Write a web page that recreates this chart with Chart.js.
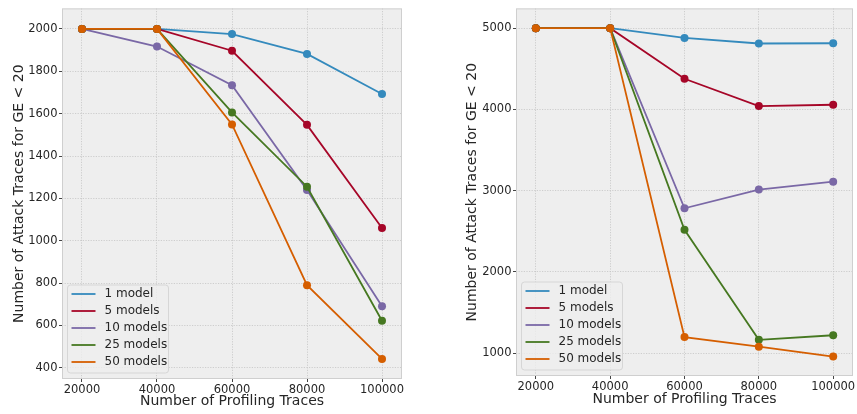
<!DOCTYPE html>
<html>
<head>
<meta charset="utf-8">
<script src="https://cdn.jsdelivr.net/npm/chart.js@4.4.1/dist/chart.umd.min.js"></script>
<style>
  html, body { margin: 0; padding: 0; background: #ffffff; }
  #wrap { position: relative; width: 857px; height: 414px; }
  .box { position: absolute; top: 0; height: 414px; }
</style>
</head>
<body>
<div id="wrap">
  <div class="box" style="left:0;width:420px"><canvas id="chart-left"></canvas></div>
  <div class="box" style="left:420px;width:437px"><canvas id="chart-right"></canvas></div>
</div>
<script>
// data

var profilingTraces = [20000, 40000, 60000, 80000, 100000];
var seriesLabels = ['1 model', '5 models', '10 models', '25 models', '50 models'];
var seriesColors = ['#348ABD', '#A60628', '#7A68A6', '#467821', '#D55E00'];

// left panel
var left1 = [2000, 2000, 1976, 1882, 1693];
var left5 = [2000, 2000, 1897, 1547, 1060];
var left10 = [2000, 1917, 1734, 1240, 691];
var left25 = [2000, 2000, 1606, 1255, 622];
var left50 = [2000, 2000, 1549, 790, 442];
var leftYTicks = [400, 600, 800, 1000, 1200, 1400, 1600, 1800, 2000];

// right panel
var right1 = [5000, 5000, 4879, 4811, 4814];
var right5 = [5000, 5000, 4377, 4040, 4057];
var right10 = [5000, 5000, 2782, 3012, 3110];
var right25 = [5000, 5000, 2518, 1162, 1219];
var right50 = [5000, 5000, 1196, 1078, 956];
var rightYTicks = [1000, 2000, 3000, 4000, 5000];

var xTicks = [20000, 40000, 60000, 80000, 100000];

var fontFamily = "'DejaVu Sans', sans-serif";

// background + full frame + legend inside the plot area
var framePlugin = {
    id: 'frame',
    beforeDraw: function (chart) {
        var a = chart.chartArea;
        var ctx = chart.ctx;
        ctx.save();
        ctx.fillStyle = '#eeeeee';
        ctx.fillRect(a.left, a.top, a.right - a.left, a.bottom - a.top);
        ctx.restore();
    },
    afterDraw: function (chart) {
        var a = chart.chartArea;
        var ctx = chart.ctx;
        ctx.save();
        ctx.strokeStyle = '#cfcfcf';
        ctx.lineWidth = 1;
        ctx.strokeRect(a.left + 0.5, a.top + 0.5, a.right - a.left - 1, a.bottom - a.top - 1);

        // legend box
        var bx = a.left + 5.5, bw = 101, bh = 88;
        var by = a.bottom - 6 - bh;
        ctx.fillStyle = 'rgba(238,238,238,0.8)';
        ctx.strokeStyle = '#d6d6d6';
        ctx.beginPath();
        ctx.roundRect(bx, by, bw, bh, 3);
        ctx.fill();
        ctx.stroke();

        ctx.font = '12px ' + fontFamily;
        ctx.textBaseline = 'middle';
        ctx.textAlign = 'left';
        chart.data.datasets.forEach(function (ds, i) {
            var yy = by + 9 + i * 17;
            ctx.strokeStyle = ds.borderColor;
            ctx.lineWidth = 1.8;
            ctx.beginPath();
            ctx.moveTo(bx + 4, yy);
            ctx.lineTo(bx + 28, yy);
            ctx.stroke();
            ctx.fillStyle = '#262626';
            ctx.fillText(ds.label, bx + 37, yy);
        });
        ctx.restore();
    }
};

function makeDatasets(seriesList) {
    var sets = [];
    for (var i = 0; i < seriesList.length; i++) {
        var pts = [];
        for (var j = 0; j < profilingTraces.length; j++) {
            pts.push({ x: profilingTraces[j], y: seriesList[i][j] });
        }
        sets.push({
            label: seriesLabels[i],
            data: pts,
            borderColor: seriesColors[i],
            backgroundColor: seriesColors[i],
            borderWidth: 1.8,
            pointRadius: 4,
            pointBorderWidth: 0,
            pointHoverRadius: 4,
            order: seriesList.length - i // later series drawn on top
        });
    }
    return sets;
}

function makeChart(canvasId, seriesList, yTicks, cfg) {
    var ctx = document.getElementById(canvasId).getContext('2d');
    var gridOpts = {
        color: '#c4c4c4',
        lineWidth: 0.8,
        tickLength: 3,
        tickColor: '#444444',
        tickBorderDash: [],
        tickWidth: 1
    };
    return new Chart(ctx, {
        type: 'line',
        data: { datasets: makeDatasets(seriesList) },
        plugins: [framePlugin],
        options: {
            responsive: true,
            maintainAspectRatio: false,
            animation: false,
            layout: { padding: { top: cfg.top, right: cfg.right, left: 0, bottom: 0 } },
            plugins: { legend: { display: false }, tooltip: { enabled: false } },
            scales: {
                x: {
                    type: 'linear',
                    min: 14667,
                    max: 105333,
                    afterBuildTicks: function (axis) {
                        axis.ticks = xTicks.map(function (v) { return { value: v }; });
                    },
                    afterFit: function (axis) { axis.height = cfg.xHeight; },
                    border: { display: false, dash: [1.2, 1.4] },
                    grid: gridOpts,
                    ticks: {
                        padding: 1,
                        color: '#262626',
                        font: { family: fontFamily, size: 11.5 },
                        maxRotation: 0,
                        callback: function (v) { return String(v); }
                    },
                    title: {
                        display: true,
                        text: 'Number of Profiling Traces',
                        color: '#262626',
                        font: { family: fontFamily, size: 14 },
                        padding: { top: 0, bottom: cfg.xTitlePad }
                    }
                },
                y: {
                    min: cfg.yMin,
                    max: cfg.yMax,
                    afterBuildTicks: function (axis) {
                        axis.ticks = yTicks.map(function (v) { return { value: v }; });
                    },
                    afterFit: function (axis) { axis.width = cfg.yWidth; },
                    border: { display: false, dash: [1.2, 1.4] },
                    grid: gridOpts,
                    ticks: {
                        padding: 1.5,
                        color: '#262626',
                        font: { family: fontFamily, size: 11.5 },
                        callback: function (v) { return String(v); }
                    },
                    title: {
                        display: true,
                        text: 'Number of Attack Traces for GE < 20',
                        color: '#262626',
                        font: { family: fontFamily, size: 14 },
                        padding: { top: cfg.yTitlePad, bottom: 0 }
                    }
                }
            }
        }
    });
}

makeChart('chart-left', [left1, left5, left10, left25, left50], leftYTicks, {
    top: 7, right: 18, xHeight: 35, yWidth: 62, xTitlePad: 3.9, yTitlePad: 10.6,
    yMin: 347, yMax: 2097
});

makeChart('chart-right', [right1, right5, right10, right25, right50], rightYTicks, {
    top: 3, right: 0.5, xHeight: 38, yWidth: 96, xTitlePad: 6.6, yTitlePad: 43.6,
    yMin: 717, yMax: 5243
});
</script>
</body>
</html>
